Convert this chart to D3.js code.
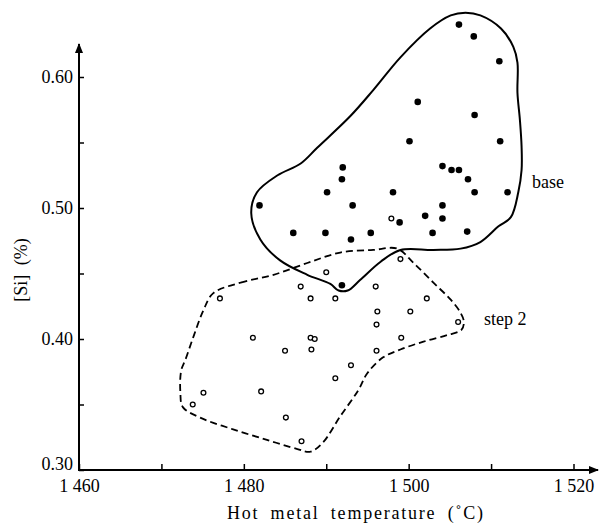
<!DOCTYPE html>
<html lang="en">
<head>
    <meta charset="UTF-8">
    <script src="https://d3js.org/d3.v7.min.js"></script>
    <title>Si vs hot metal temperature</title>
    <style>
        body { margin: 0; background: #fff; }
        text { font-family: "Liberation Serif", "DejaVu Serif", serif; fill: #000; }
    </style>
</head>
<body>
    <svg width="600" height="524" id="chart"></svg>
    <script>
        // base heats (filled dots)
        const baseT  = [1506.1, 1507.9, 1511.0, 1501.1, 1508.0, 1500.1, 1511.1, 1492.0, 1491.9, 1504.1,
                        1505.2, 1506.1, 1507.2, 1490.1, 1498.1, 1508.0, 1512.0, 1493.2, 1504.1, 1498.9,
                        1502.0, 1504.1, 1489.9, 1493.0, 1495.4, 1502.9, 1507.1, 1481.9, 1486.0, 1491.9];
        const baseSi = [0.640, 0.631, 0.612, 0.581, 0.571, 0.551, 0.551, 0.531, 0.522, 0.532,
                        0.529, 0.529, 0.522, 0.512, 0.512, 0.512, 0.512, 0.502, 0.502, 0.489,
                        0.494, 0.492, 0.481, 0.476, 0.481, 0.481, 0.482, 0.502, 0.481, 0.441];

        // step 2 heats (open circles)
        const stepT  = [1497.9, 1499.0, 1490.0, 1486.9, 1496.0, 1488.1, 1491.1, 1502.2, 1477.1, 1496.2,
                        1500.2, 1496.1, 1506.0, 1488.1, 1488.6, 1499.1, 1481.1, 1488.2, 1496.1, 1485.0,
                        1493.0, 1491.1, 1475.1, 1473.8, 1482.1, 1485.1, 1487.0];
        const stepSi = [0.492, 0.461, 0.451, 0.440, 0.440, 0.431, 0.431, 0.431, 0.431, 0.421,
                        0.421, 0.411, 0.413, 0.401, 0.400, 0.401, 0.401, 0.392, 0.391, 0.391,
                        0.380, 0.370, 0.359, 0.350, 0.360, 0.340, 0.322];

        // hand drawn envelopes round each group
        const baseLineT  = [1480.9, 1481.6, 1484.1, 1486.9, 1488.9, 1492.9, 1495.7, 1499.0, 1502.6, 1505.1,
                            1506.9, 1508.7, 1511.2, 1512.7, 1513.2, 1513.2, 1513.5, 1513.7, 1513.7, 1513.3,
                            1512.4, 1510.9, 1508.7, 1506.3, 1503.0, 1499.0, 1496.6, 1494.1, 1492.6, 1491.5,
                            1490.5, 1487.7, 1484.4, 1482.0];
        const baseLineSi = [0.496, 0.512, 0.525, 0.534, 0.546, 0.570, 0.590, 0.615, 0.637, 0.647,
                            0.649, 0.647, 0.637, 0.623, 0.611, 0.588, 0.567, 0.547, 0.529, 0.512,
                            0.493, 0.486, 0.474, 0.469, 0.468, 0.468, 0.459, 0.445, 0.437, 0.437,
                            0.442, 0.449, 0.460, 0.476];
        const stepLineT  = [1476.3, 1479.6, 1483.6, 1487.7, 1491.7, 1495.7, 1498.6, 1500.6, 1503.0, 1505.1,
                            1506.3, 1506.7, 1506.4, 1504.7, 1501.8, 1499.0, 1496.9, 1495.0, 1493.9, 1491.7,
                            1489.6, 1488.1, 1486.5, 1482.8, 1478.7, 1474.7, 1472.6, 1472.3, 1472.4, 1472.9,
                            1473.9, 1475.1];
        const stepLineSi = [0.435, 0.443, 0.449, 0.458, 0.466, 0.468, 0.469, 0.458, 0.443, 0.430,
                            0.420, 0.413, 0.407, 0.403, 0.398, 0.392, 0.386, 0.374, 0.361, 0.341,
                            0.321, 0.314, 0.316, 0.323, 0.331, 0.340, 0.348, 0.359, 0.376, 0.384,
                            0.402, 0.422];

        const xTicks = [1460, 1470, 1480, 1490, 1500, 1510, 1520];
        const xTickLabels = ["1 460", "", "1 480", "", "1 500", "", "1 520"];
        const yTicks = [0.30, 0.35, 0.40, 0.45, 0.50, 0.55, 0.60];
        const yTickLabels = ["0.30", "", "0.40", "", "0.50", "", "0.60"];

        let svg = d3.select("#chart");

        let x = d3.scaleLinear().domain([1460, 1520]).range([79, 573.5]);
        let y = d3.scaleLinear().domain([0.30, 0.60]).range([470, 77]);

        // arrow head for the axis lines
        svg.append("defs").append("marker")
            .attr("id", "arrow")
            .attr("viewBox", "0 0 10 10")
            .attr("refX", 9).attr("refY", 5)
            .attr("markerWidth", 5).attr("markerHeight", 5)
            .attr("markerUnits", "strokeWidth")
            .attr("orient", "auto")
            .append("path")
            .attr("d", "M0,1 L10,5 L0,9 Z")
            .attr("fill", "#000");

        // x axis
        let gx = svg.append("g")
            .attr("transform", "translate(0," + y(0.30) + ")")
            .call(d3.axisBottom(x).tickValues(xTicks)
                .tickFormat((d, i) => xTickLabels[i])
                .tickSize(-6).tickSizeOuter(0).tickPadding(9));
        gx.select(".domain").remove();
        gx.selectAll(".tick line").attr("stroke", "#000").attr("stroke-width", 1.5);
        gx.selectAll("text").attr("font-size", 18).attr("font-family", "Liberation Serif");

        svg.append("line")
            .attr("x1", x(1460) - 1).attr("x2", 598)
            .attr("y1", y(0.30)).attr("y2", y(0.30))
            .attr("stroke", "#000").attr("stroke-width", 2)
            .attr("marker-end", "url(#arrow)");

        // y axis
        let gy = svg.append("g")
            .attr("transform", "translate(" + x(1460) + ",0)")
            .call(d3.axisLeft(y).tickValues(yTicks)
                .tickFormat((d, i) => yTickLabels[i])
                .tickSize(-5).tickSizeOuter(0).tickPadding(6));
        gy.select(".domain").remove();
        gy.selectAll(".tick line").attr("stroke", "#000").attr("stroke-width", 1.5);
        gy.selectAll("text").attr("font-size", 18).attr("font-family", "Liberation Serif");
        // the 0.30 label sits a little above the corner
        gy.selectAll(".tick text").filter(d => d === 0.30).attr("dy", "-0.05em");

        svg.append("line")
            .attr("x1", x(1460)).attr("x2", x(1460))
            .attr("y1", y(0.30) + 1).attr("y2", 44)
            .attr("stroke", "#000").attr("stroke-width", 2)
            .attr("marker-end", "url(#arrow)");

        // axis titles
        svg.append("text")
            .attr("x", 227).attr("y", 519)
            .attr("font-size", 18)
            .attr("word-spacing", 5)
            .attr("textLength", 256).attr("lengthAdjust", "spacing")
            .text("Hot metal temperature (\u02DAC)");

        svg.append("text")
            .attr("transform", "translate(27,270) rotate(-90)")
            .attr("text-anchor", "middle")
            .attr("font-size", 18)
            .attr("word-spacing", 5)
            .text("[Si] (%)");

        // envelopes
        let outline = d3.line()
            .x(d => x(d[0])).y(d => y(d[1]))
            .curve(d3.curveCatmullRomClosed.alpha(0.5));

        svg.append("path")
            .attr("d", outline(baseLineT.map((t, i) => [t, baseLineSi[i]])))
            .attr("fill", "none").attr("stroke", "#000").attr("stroke-width", 2);

        svg.append("path")
            .attr("d", outline(stepLineT.map((t, i) => [t, stepLineSi[i]])))
            .attr("fill", "none").attr("stroke", "#000").attr("stroke-width", 1.8)
            .attr("stroke-dasharray", "7,4");

        // points
        svg.selectAll(".base").data(baseT).enter().append("circle")
            .attr("class", "base")
            .attr("cx", d => x(d))
            .attr("cy", (d, i) => y(baseSi[i]))
            .attr("r", 3.3)
            .attr("fill", "#000");

        svg.selectAll(".step").data(stepT).enter().append("circle")
            .attr("class", "step")
            .attr("cx", d => x(d))
            .attr("cy", (d, i) => y(stepSi[i]))
            .attr("r", 2.4)
            .attr("fill", "#fff")
            .attr("stroke", "#000").attr("stroke-width", 1.3);

        // group labels
        svg.append("text").attr("x", 532).attr("y", 188).attr("font-size", 18).text("base");
        svg.append("text").attr("x", 484).attr("y", 325).attr("font-size", 18).text("step 2");
    </script>
</body>
</html>
